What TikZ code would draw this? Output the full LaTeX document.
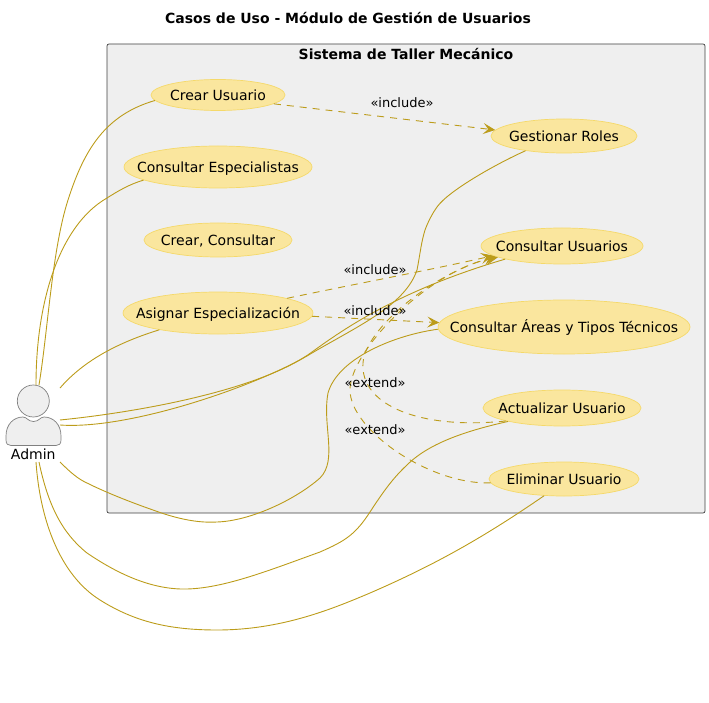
\documentclass[tikz,border=0pt]{standalone}
\usepackage{fontspec}
\setmainfont{DejaVu Sans}
\usetikzlibrary{shapes.geometric,arrows.meta}
\definecolor{uefill}{HTML}{FAE69E}
\definecolor{uedge}{HTML}{F5D96A}
\definecolor{linkc}{HTML}{BC9C1A}
\definecolor{sysfill}{HTML}{EFEFEF}
\definecolor{actedge}{HTML}{808080}
\newcommand{\uctext}[1]{\raisebox{-0.36em}[0pt][0pt]{\makebox[0pt]{#1}}}
\tikzset{
  uc/.style={ellipse,draw=uedge,fill=uefill,line width=0.7pt,inner sep=0pt,font=\fontsize{14}{16}\selectfont,text=black},
  assoc/.style={draw=linkc,line width=0.9pt},
  dep/.style={draw=linkc,line width=0.9pt,dash pattern=on 7pt off 6pt,-{Stealth[length=12pt,width=11pt,inset=5pt]}},
  lbl/.style={font=\fontsize{13}{15}\selectfont,text=black,inner sep=0pt}
}
\begin{document}
\begin{tikzpicture}[x=1pt,y=-1pt]
\useasboundingbox (0,0) rectangle (709,703);
\node[font=\bfseries\fontsize{14}{16}\selectfont,inner sep=0pt] (title) at (348,18) {Casos de Uso - Módulo de Gestión de Usuarios};
\draw[draw=black!75,fill=sysfill,line width=0.7pt,rounded corners=2pt] (107,44) rectangle (705,513);
\node[font=\bfseries\fontsize{14}{16}\selectfont,inner sep=0pt] (systitle) at (406,54) {Sistema de Taller Mecánico};
% actor
\node[circle,draw=actedge,fill=sysfill,line width=0.7pt,minimum size=32pt,inner sep=0pt] (head) at (33.3,401) {};
\draw[draw=actedge,fill=sysfill,line width=0.7pt] (6,436) .. controls (6,424) and (14,417) .. (23,417) .. controls (27,417) and (28,421.5) .. (33.5,421.5) .. controls (39,421.5) and (40,417) .. (44,417) .. controls (53,417) and (61,424) .. (61,436) -- (61,440) .. controls (61,444) and (59,445.5) .. (56,445.5) -- (11,445.5) .. controls (8,445.5) and (6,444) .. (6,440) -- cycle;
\node[font=\fontsize{14}{16}\selectfont,inner sep=0pt] (admin) at (33.3,454) {Admin};
% use cases
\node[uc,minimum width=134pt,minimum height=31pt] (cu) at (218,95) {\uctext{Crear Usuario}};
\node[uc,minimum width=188pt,minimum height=42pt] (ce) at (218,167) {\uctext{Consultar Especialistas}};
\node[uc,minimum width=148pt,minimum height=34pt] (cc) at (218,240) {\uctext{Crear, Consultar}};
\node[uc,minimum width=190pt,minimum height=42pt] (ae) at (218,313) {\uctext{Asignar Especialización}};
\node[uc,minimum width=146pt,minimum height=34pt] (gr) at (564,136) {\uctext{Gestionar Roles}};
\node[uc,minimum width=162pt,minimum height=36pt] (us) at (562,246) {\uctext{Consultar Usuarios}};
\node[uc,minimum width=252pt,minimum height=54pt] (ar) at (564,327) {\uctext{Consultar Áreas y Tipos Técnicos}};
\node[uc,minimum width=158pt,minimum height=36pt] (au) at (562,408) {\uctext{Actualizar Usuario}};
\node[uc,minimum width=150pt,minimum height=34pt] (el) at (564,479) {\uctext{Eliminar Usuario}};
% actor link ends
\coordinate (a1) at (39,385);
\coordinate (a2) at (36,385);
\coordinate (a3) at (60,388);
\coordinate (a4) at (60,420);
\coordinate (a5) at (60,425);
\coordinate (a6) at (60,462);
\coordinate (a7) at (39,462);
\coordinate (a8) at (36,462);
% associations
\draw[assoc] (a1) .. controls (48,330) and (52,250) .. (68,200) .. controls (84,150) and (105,115) .. (cu.185);
\draw[assoc] (a2) .. controls (36,300) and (60,225) .. (107,198) .. controls (118,191) and (130,184) .. (ce.190);
\draw[assoc] (a3) .. controls (80,365) and (110,345) .. (ae.196);
\draw[assoc] (a4) .. controls (140,412) and (260,390) .. (312,352) .. controls (345,328) and (400,290) .. (us.193);
\draw[assoc] (a5) .. controls (130,430) and (260,385) .. (312,353) .. controls (360,325) and (405,305) .. (417,270) .. controls (420,255) and (421,243) .. (425,230) .. controls (428,222) and (432,214) .. (437,207) .. controls (449,190) and (500,162) .. (gr.201);
\draw[assoc] (a6) .. controls (70,472) and (78,479) .. (87,483) .. controls (105,492) and (130,502) .. (153,510) .. controls (180,520) and (200,523) .. (217,522) .. controls (250,521) and (295,500) .. (320,478) .. controls (338,460) and (322,425) .. (328,393) .. controls (338,358) and (395,335) .. (ar.181);
\draw[assoc] (a7) .. controls (48,505) and (62,533) .. (87,553) .. controls (115,572) and (150,590) .. (187,589) .. controls (225,588) and (270,570) .. (320,552) .. controls (345,541) and (355,535) .. (370,512) .. controls (383,492) and (393,478) .. (407,465) .. controls (430,442) and (470,430) .. (au.194);
\draw[assoc] (a8) .. controls (40,520) and (60,575) .. (100,600) .. controls (135,622) and (170,630) .. (217,630) .. controls (280,630) and (330,610) .. (370,593) .. controls (430,567) and (480,540) .. (el.220);
% dependencies
\draw[dep] (cu.-9) -- (gr.175);
\draw[dep] (ae.12.4) .. controls (360,283) and (430,270) .. (us.188);
\draw[dep] (ae.-2.4) -- (ar.178);
\draw[dep] (au.193) .. controls (420,430) and (360,405) .. (363,363) .. controls (365,330) and (430,275) .. (us.189);
\draw[dep] (el.183) .. controls (430,485) and (350,430) .. (350,390) .. controls (350,350) and (430,270) .. (us.190);
% labels
\node[lbl] (l1) at (402,103) {«include»};
\node[lbl] (l2) at (375,270) {«include»};
\node[lbl] (l3) at (375,311) {«include»};
\node[lbl] (l4) at (375,383) {«extend»};
\node[lbl] (l5) at (375,430) {«extend»};
\end{tikzpicture}
\end{document}
